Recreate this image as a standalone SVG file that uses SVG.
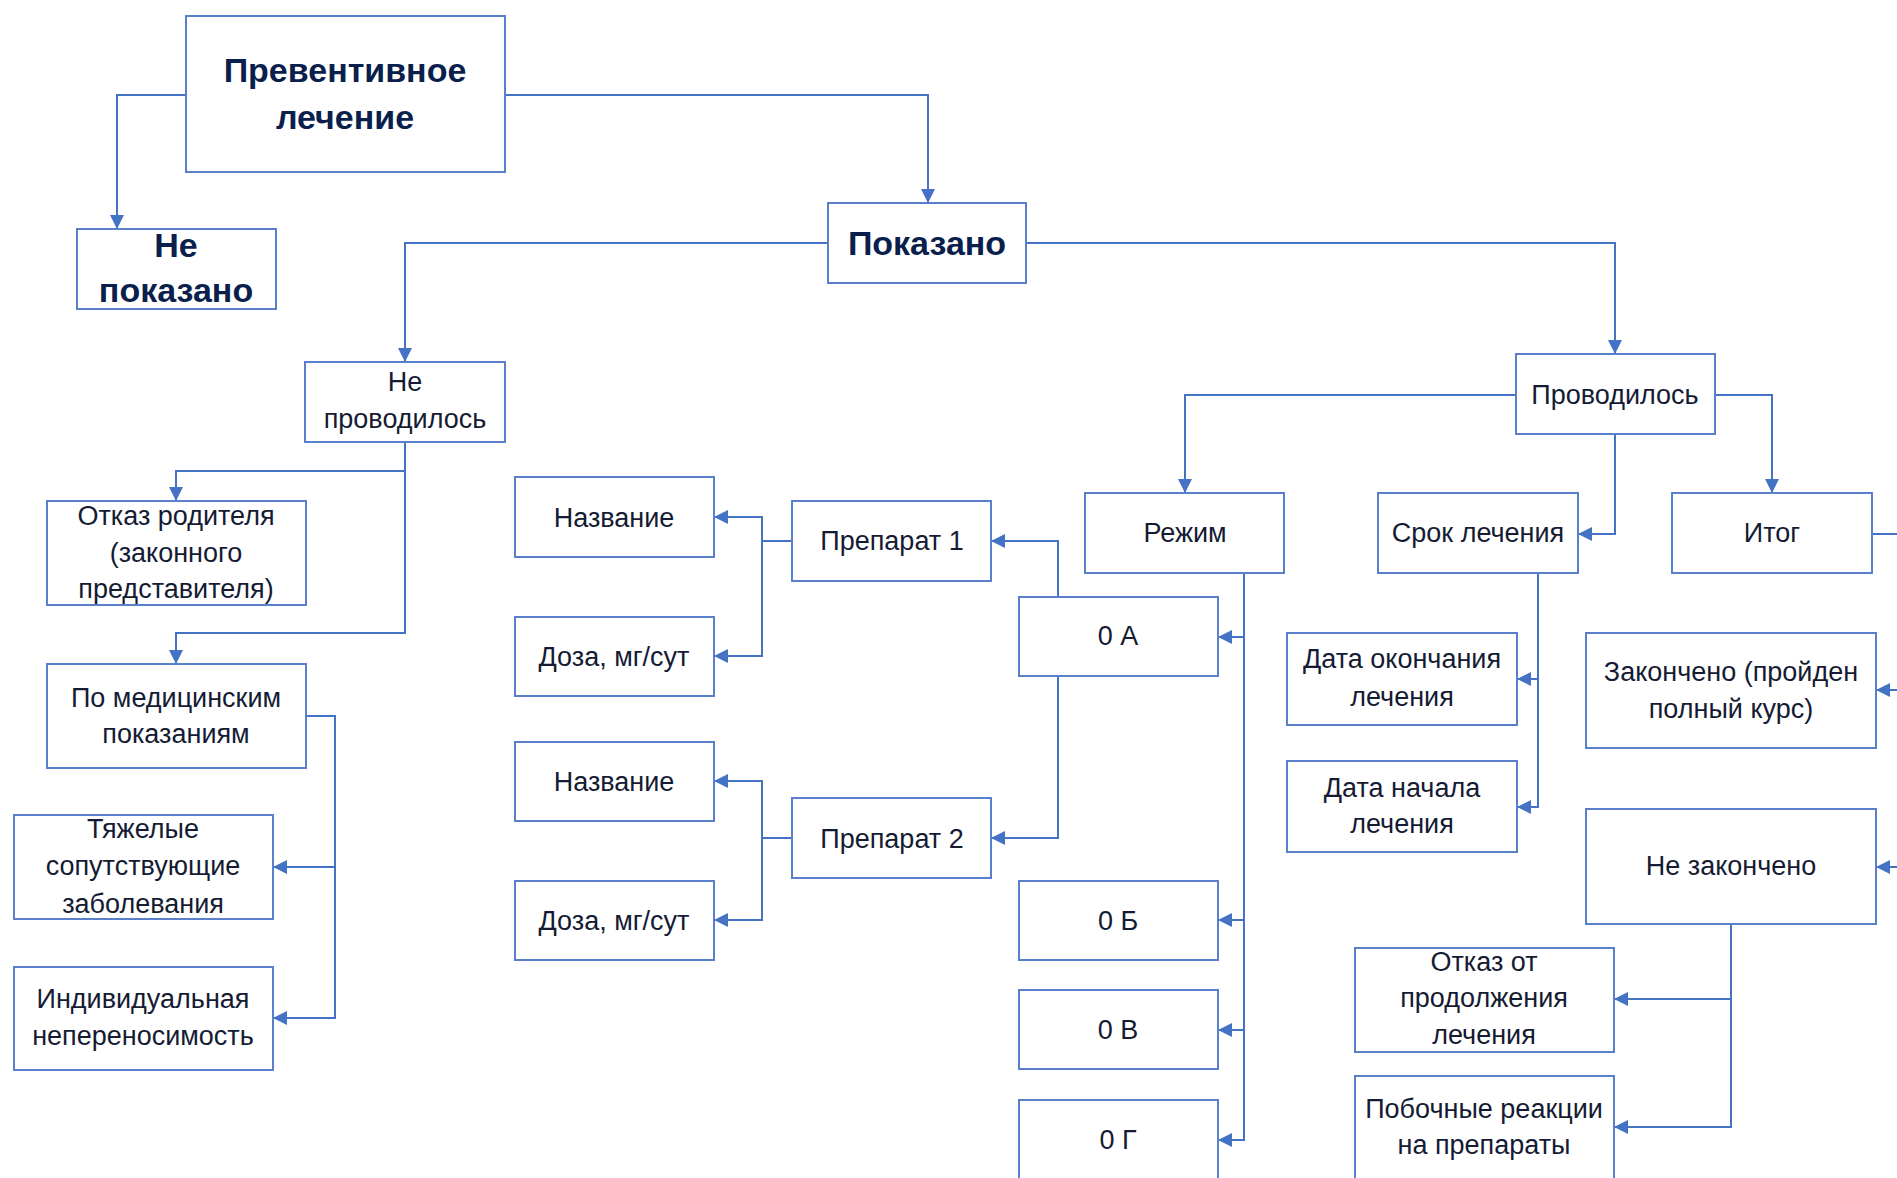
<svg xmlns="http://www.w3.org/2000/svg" width="1897" height="1178" viewBox="0 0 1897 1178">
  <defs>
    <marker id="arrow" markerUnits="userSpaceOnUse" markerWidth="14" markerHeight="14" refX="14" refY="7" orient="auto">
      <path d="M0,0 L14,7 L0,14 z" fill="#4472c4"/>
    </marker>
    <style>
      .box { fill: #ffffff; stroke: #5a7fcb; stroke-width: 2; }
      .t { font-family: "Liberation Sans", Arial, sans-serif; font-size: 27px; fill: #141b33; text-anchor: middle; }
      .b { font-family: "Liberation Sans", Arial, sans-serif; font-size: 34px; font-weight: bold; fill: #0b1f4d; text-anchor: middle; }
      .c { fill: none; stroke: #4472c4; stroke-width: 2; }
      .c.a { marker-end: url(#arrow); }
    </style>
  </defs>
  <rect width="1897" height="1178" fill="#ffffff"/>

  <!-- connectors -->
  <g id="connectors">
    <path class="c a" d="M186,95 H117 V229"/>
    <path class="c a" d="M505,95 H928 V203"/>
    <path class="c a" d="M828,243 H405 V362"/>
    <path class="c a" d="M1026,243 H1615 V354"/>
    <path class="c a" d="M1516,395 H1185 V493"/>
    <path class="c a" d="M1615,434 V534 H1578"/>
    <path class="c a" d="M1715,395 H1772 V493"/>
    <path class="c a" d="M1872,534 H1910 V690 H1876"/>
    <path class="c a" d="M1910,690 V867 H1876"/>
    <path class="c a" d="M1731,924 V999 H1614"/>
    <path class="c a" d="M1731,999 V1127 H1614"/>
    <path class="c a" d="M1538,573 V679 H1517"/>
    <path class="c a" d="M1538,679 V807 H1517"/>
    <path class="c a" d="M1244,573 V637 H1218"/>
    <path class="c a" d="M1244,637 V920 H1218"/>
    <path class="c a" d="M1244,920 V1030 H1218"/>
    <path class="c a" d="M1244,1030 V1140 H1218"/>
    <path class="c a" d="M1058,597 V541 H991"/>
    <path class="c a" d="M1058,676 V838 H991"/>
    <path class="c a" d="M792,541 H762 V517 H714"/>
    <path class="c a" d="M762,541 V656 H714"/>
    <path class="c a" d="M792,838 H762 V781 H714"/>
    <path class="c a" d="M762,838 V920 H714"/>
    <path class="c a" d="M405,442 V471 H176 V501"/>
    <path class="c a" d="M405,471 V633 H176 V664"/>
    <path class="c a" d="M306,716 H335 V867 H273"/>
    <path class="c a" d="M335,867 V1018 H273"/>
  </g>

  <!-- nodes -->
  <g id="preventive">
    <rect class="box" x="186" y="16" width="319" height="156"/>
    <text class="b" x="345" y="82">Превентивное</text>
    <text class="b" x="345" y="129">лечение</text>
  </g>
  <g id="not-indicated">
    <rect class="box" x="77" y="229" width="199" height="80"/>
    <text class="b" x="176" y="257">Не</text>
    <text class="b" x="176" y="302">показано</text>
  </g>
  <g id="indicated">
    <rect class="box" x="828" y="203" width="198" height="80"/>
    <text class="b" x="927" y="255">Показано</text>
  </g>
  <g id="not-performed">
    <rect class="box" x="305" y="362" width="200" height="80"/>
    <text class="t" x="405" y="391">Не</text>
    <text class="t" x="405" y="428">проводилось</text>
  </g>
  <g id="performed">
    <rect class="box" x="1516" y="354" width="199" height="80"/>
    <text class="t" x="1615" y="404">Проводилось</text>
  </g>
  <g id="regimen">
    <rect class="box" x="1085" y="493" width="199" height="80"/>
    <text class="t" x="1185" y="542">Режим</text>
  </g>
  <g id="duration">
    <rect class="box" x="1378" y="493" width="200" height="80"/>
    <text class="t" x="1478" y="542">Срок лечения</text>
  </g>
  <g id="outcome">
    <rect class="box" x="1672" y="493" width="200" height="80"/>
    <text class="t" x="1772" y="542">Итог</text>
  </g>
  <g id="completed">
    <rect class="box" x="1586" y="633" width="290" height="115"/>
    <text class="t" x="1731" y="681">Закончено (пройден</text>
    <text class="t" x="1731" y="718">полный курс)</text>
  </g>
  <g id="not-completed">
    <rect class="box" x="1586" y="809" width="290" height="115"/>
    <text class="t" x="1731" y="875">Не закончено</text>
  </g>
  <g id="refusal-continue">
    <rect class="box" x="1355" y="948" width="259" height="104"/>
    <text class="t" x="1484" y="971">Отказ от</text>
    <text class="t" x="1484" y="1007">продолжения</text>
    <text class="t" x="1484" y="1044">лечения</text>
  </g>
  <g id="side-effects">
    <rect class="box" x="1355" y="1076" width="259" height="106"/>
    <text class="t" x="1484" y="1118">Побочные реакции</text>
    <text class="t" x="1484" y="1154">на препараты</text>
  </g>
  <g id="end-date">
    <rect class="box" x="1287" y="633" width="230" height="92"/>
    <text class="t" x="1402" y="668">Дата окончания</text>
    <text class="t" x="1402" y="706">лечения</text>
  </g>
  <g id="start-date">
    <rect class="box" x="1287" y="761" width="230" height="91"/>
    <text class="t" x="1402" y="797">Дата начала</text>
    <text class="t" x="1402" y="833">лечения</text>
  </g>
  <g id="o-a">
    <rect class="box" x="1019" y="597" width="199" height="79"/>
    <text class="t" x="1118" y="645">0 А</text>
  </g>
  <g id="o-b">
    <rect class="box" x="1019" y="881" width="199" height="79"/>
    <text class="t" x="1118" y="930">0 Б</text>
  </g>
  <g id="o-v">
    <rect class="box" x="1019" y="990" width="199" height="79"/>
    <text class="t" x="1118" y="1039">0 В</text>
  </g>
  <g id="o-g">
    <rect class="box" x="1019" y="1100" width="199" height="82"/>
    <text class="t" x="1118" y="1149">0 Г</text>
  </g>
  <g id="drug-1">
    <rect class="box" x="792" y="501" width="199" height="80"/>
    <text class="t" x="892" y="550">Препарат 1</text>
  </g>
  <g id="drug-2">
    <rect class="box" x="792" y="798" width="199" height="80"/>
    <text class="t" x="892" y="848">Препарат 2</text>
  </g>
  <g id="name-1">
    <rect class="box" x="515" y="477" width="199" height="80"/>
    <text class="t" x="614" y="527">Название</text>
  </g>
  <g id="dose-1">
    <rect class="box" x="515" y="617" width="199" height="79"/>
    <text class="t" x="614" y="666">Доза, мг/сут</text>
  </g>
  <g id="name-2">
    <rect class="box" x="515" y="742" width="199" height="79"/>
    <text class="t" x="614" y="791">Название</text>
  </g>
  <g id="dose-2">
    <rect class="box" x="515" y="881" width="199" height="79"/>
    <text class="t" x="614" y="930">Доза, мг/сут</text>
  </g>
  <g id="parent-refusal">
    <rect class="box" x="47" y="501" width="259" height="104"/>
    <text class="t" x="176" y="525">Отказ родителя</text>
    <text class="t" x="176" y="562">(законного</text>
    <text class="t" x="176" y="598">представителя)</text>
  </g>
  <g id="medical-reasons">
    <rect class="box" x="47" y="664" width="259" height="104"/>
    <text class="t" x="176" y="707">По медицинским</text>
    <text class="t" x="176" y="743">показаниям</text>
  </g>
  <g id="comorbidities">
    <rect class="box" x="14" y="815" width="259" height="104"/>
    <text class="t" x="143" y="838">Тяжелые</text>
    <text class="t" x="143" y="875">сопутствующие</text>
    <text class="t" x="143" y="913">заболевания</text>
  </g>
  <g id="intolerance">
    <rect class="box" x="14" y="967" width="259" height="103"/>
    <text class="t" x="143" y="1008">Индивидуальная</text>
    <text class="t" x="143" y="1045">непереносимость</text>
  </g>
</svg>
